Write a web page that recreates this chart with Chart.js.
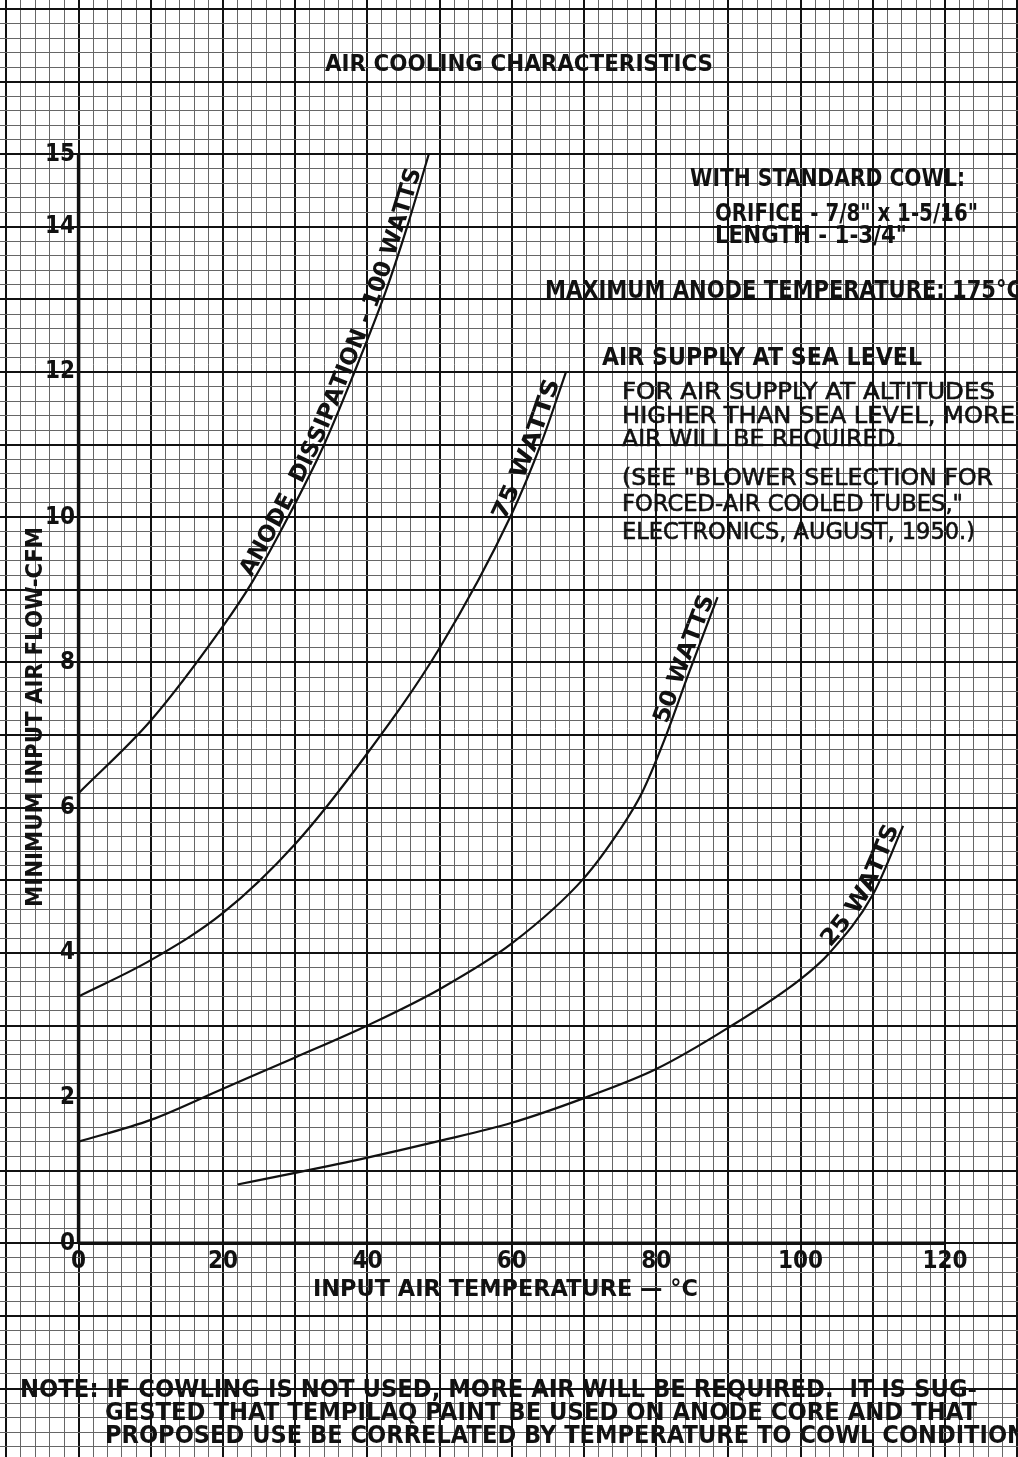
<!DOCTYPE html>
<html>
<head>
<meta charset="utf-8">
<script src="https://cdn.jsdelivr.net/npm/chart.js@4.4.1/dist/chart.umd.min.js"></script>
<style>
  html, body { margin: 0; padding: 0; background: #fff; }
  #wrap { position: relative; width: 1018px; height: 1457px; }
</style>
</head>
<body>
<div id="wrap"><canvas id="c"></canvas></div>
<script>
// Tick labels printed on the axes
const X_TICK_LABELS = [0, 20, 40, 60, 80, 100, 120];
const Y_TICK_LABELS = [0, 2, 4, 6, 8, 10, 12, 14, 15];

// Input air temperature (°C) vs. minimum input air flow (CFM), one pair per anode dissipation
const temp100 = [0, 10, 20, 24, 29, 34, 38, 42.5, 45.5, 48.5];
const flow100 = [6.2, 7.2, 8.5, 9.1, 10.0, 11.0, 11.95, 13.1, 14.0, 15.0];
const temp75 = [0, 10, 20, 30, 40, 50, 60, 64, 67.5];
const flow75 = [3.4, 3.9, 4.55, 5.5, 6.75, 8.2, 10.05, 11.0, 12.0];
const temp50 = [0, 10, 20, 30, 40, 50, 60, 70, 75, 78, 81, 84.5, 88.5];
const flow50 = [1.4, 1.7, 2.13, 2.56, 3.0, 3.5, 4.13, 5.03, 5.7, 6.2, 6.9, 7.85, 8.9];
const temp25 = [22, 30, 40, 50, 60, 70, 80, 90, 100, 104, 110, 114.2];
const flow25 = [0.81, 0.97, 1.18, 1.41, 1.66, 2.0, 2.4, 2.97, 3.64, 4.0, 4.8, 5.75];

const curveLabels = ['ANODE  DISSIPATION - 100 WATTS', '75 WATTS', '50 WATTS', '25 WATTS'];

// Extent of the axis lines drawn over the ruled sheet
const X_AXIS_END = 120;
const Y_AXIS_END = 15;

// ---- layout -------------------------------------------------------------
// The ruled sheet fills the canvas; these limits place the origin where the axes cross.
const X_MIN = -10.886, X_MAX = 130.11;
const Y_MIN = -2.9435, Y_MAX = 17.1253;
const INK = '#111';
const FONT = "'DejaVu Sans', 'Liberation Sans', sans-serif";
const TICK_FONT = "'DejaVu Sans Condensed', 'DejaVu Sans', sans-serif";

// temperature span along each curve that its caption occupies
const LABEL_SPANS = [[24.3, 47.8], [59.4, 67.0], [81.9, 88.4], [104.4, 114.0]];

const near = (a, b) => Math.abs(a - b) < 1e-6;
const majorX = v => near(v / 10, Math.round(v / 10));
const majorY = v => near(v, Math.round(v));
const pts = (xs, ys) => xs.map((x, i) => ({ x, y: ys[i] }));
const noPad = s => { s.paddingLeft = s.paddingRight = s.paddingTop = s.paddingBottom = 0; };

// draws one line of lettering squeezed or stretched to run from x0 to x1
function fitText(ctx, text, x0, x1, yMid, size, weight) {
  ctx.save();
  ctx.font = `${weight} ${size}px ${FONT}`;
  ctx.textAlign = 'left';
  ctx.textBaseline = 'alphabetic';
  const w = ctx.measureText(text).width;
  ctx.translate(x0, yMid + size * 0.365);
  ctx.scale((x1 - x0) / w, 1);
  ctx.fillText(text, 0, 0);
  if (weight === 'normal') {
    ctx.strokeStyle = INK;
    ctx.lineWidth = 0.6;
    ctx.strokeText(text, 0, 0);
  }
  ctx.restore();
}

// polyline through the spline that Chart.js drew for a dataset, with arc lengths
function samplePath(elems) {
  const out = [];
  for (let i = 0; i < elems.length - 1; i++) {
    const a = elems[i], b = elems[i + 1];
    const c1x = a.cp2x ?? a.x, c1y = a.cp2y ?? a.y;
    const c2x = b.cp1x ?? b.x, c2y = b.cp1y ?? b.y;
    for (let k = 0; k < 40; k++) {
      const t = k / 40, u = 1 - t;
      out.push({
        x: u * u * u * a.x + 3 * u * u * t * c1x + 3 * u * t * t * c2x + t * t * t * b.x,
        y: u * u * u * a.y + 3 * u * u * t * c1y + 3 * u * t * t * c2y + t * t * t * b.y
      });
    }
  }
  const last = elems[elems.length - 1];
  out.push({ x: last.x, y: last.y });
  let s = 0;
  out.forEach((p, i) => {
    if (i) s += Math.hypot(p.x - out[i - 1].x, p.y - out[i - 1].y);
    p.s = s;
  });
  return out;
}

function arcAtX(path, px) {
  for (let i = 0; i < path.length - 1; i++) {
    const a = path[i], b = path[i + 1];
    if (px >= a.x && px <= b.x) {
      const t = b.x === a.x ? 0 : (px - a.x) / (b.x - a.x);
      return a.s + t * (b.s - a.s);
    }
  }
  return px < path[0].x ? 0 : path[path.length - 1].s;
}

function pointAt(path, s) {
  let i = 0;
  while (i < path.length - 2 && path[i + 1].s < s) i++;
  const a = path[i], b = path[i + 1];
  const t = b.s === a.s ? 0 : (s - a.s) / (b.s - a.s);
  return { x: a.x + t * (b.x - a.x), y: a.y + t * (b.y - a.y), ang: Math.atan2(b.y - a.y, b.x - a.x) };
}

// letters a caption one character at a time along the upper side of its curve
function labelAlongCurve(chart, dsIndex, text, span, size, off) {
  const ctx = chart.ctx;
  const path = samplePath(chart.getDatasetMeta(dsIndex).data);
  const xs = chart.scales.x;
  const s0 = arcAtX(path, xs.getPixelForValue(span[0]));
  const s1 = arcAtX(path, xs.getPixelForValue(span[1]));
  ctx.save();
  ctx.font = `bold ${size}px ${FONT}`;
  ctx.textAlign = 'center';
  ctx.textBaseline = 'alphabetic';
  const chars = [...text];
  const widths = chars.map(ch => ctx.measureText(ch).width);
  const total = widths.reduce((a, b) => a + b, 0);
  const k = (s1 - s0) / total;
  let acc = 0;
  chars.forEach((ch, i) => {
    const p = pointAt(path, s0 + (acc + widths[i] / 2) * k);
    ctx.save();
    ctx.translate(p.x, p.y);
    ctx.rotate(p.ang);
    ctx.translate(0, -off);
    ctx.scale(k, 1);
    ctx.fillText(ch, 0, 0);
    ctx.restore();
    acc += widths[i];
  });
  ctx.restore();
}

const paperText = {
  id: 'paperText',
  afterDraw(chart) {
    const ctx = chart.ctx;
    ctx.save();
    ctx.fillStyle = INK;

    fitText(ctx, 'AIR COOLING CHARACTERISTICS', 325, 713, 63, 23, 'bold');

    fitText(ctx, 'WITH STANDARD COWL:', 690, 965, 177, 24, 'bold');
    fitText(ctx, 'ORIFICE - 7/8" x 1-5/16"', 715, 978, 212, 24, 'bold');
    fitText(ctx, 'LENGTH - 1-3/4"', 715, 907, 234, 24, 'bold');
    fitText(ctx, 'MAXIMUM ANODE TEMPERATURE: 175°C', 545, 1022, 289, 24, 'bold');
    fitText(ctx, 'AIR SUPPLY AT SEA LEVEL', 602, 922, 356, 24, 'bold');
    fitText(ctx, 'FOR AIR SUPPLY AT ALTITUDES', 622, 995, 391, 23, 'normal');
    fitText(ctx, 'HIGHER THAN SEA LEVEL, MORE', 622, 1015, 415, 23, 'normal');
    fitText(ctx, 'AIR WILL BE REQUIRED.', 622, 903, 438, 23, 'normal');
    fitText(ctx, '(SEE "BLOWER SELECTION FOR', 622, 993, 477, 23, 'normal');
    fitText(ctx, 'FORCED-AIR COOLED TUBES,"', 622, 963, 503, 23, 'normal');
    fitText(ctx, 'ELECTRONICS, AUGUST, 1950.)', 622, 975, 531, 23, 'normal');

    fitText(ctx, 'INPUT AIR TEMPERATURE — °C', 313, 698, 1288, 23, 'bold');
    ctx.save();
    ctx.translate(34, 907);
    ctx.rotate(-Math.PI / 2);
    fitText(ctx, 'MINIMUM INPUT AIR FLOW-CFM', 0, 380, 0, 23, 'bold');
    ctx.restore();

    fitText(ctx, 'NOTE: IF COWLING IS NOT USED, MORE AIR WILL BE REQUIRED.  IT IS SUG-', 20, 977, 1388, 24, 'bold');
    fitText(ctx, 'GESTED THAT TEMPILAQ PAINT BE USED ON ANODE CORE AND THAT', 105, 977, 1411, 24, 'bold');
    fitText(ctx, 'PROPOSED USE BE CORRELATED BY TEMPERATURE TO COWL CONDITION', 105, 1026, 1434, 24, 'bold');

    LABEL_SPANS.forEach((span, i) => labelAlongCurve(chart, i, curveLabels[i], span, 23, 3));
    ctx.restore();
  }
};

const curveStyle = {
  showLine: true, borderColor: INK, backgroundColor: INK, borderWidth: 2.2,
  pointRadius: 0, fill: false, cubicInterpolationMode: 'monotone'
};
const axisStyle = {
  showLine: true, borderColor: INK, borderWidth: 3.5, pointRadius: 0, fill: false, tension: 0
};

new Chart(document.getElementById('c'), {
  type: 'line',
  data: {
    datasets: [
      { label: '100 W', data: pts(temp100, flow100), ...curveStyle },
      { label: '75 W', data: pts(temp75, flow75), ...curveStyle },
      { label: '50 W', data: pts(temp50, flow50), ...curveStyle },
      { label: '25 W', data: pts(temp25, flow25), ...curveStyle },
      { label: 'x axis', data: pts([0, X_AXIS_END], [0, 0]), ...axisStyle },
      { label: 'y axis', data: pts([0, 0], [0, Y_AXIS_END]), ...axisStyle }
    ]
  },
  options: {
    responsive: true,
    maintainAspectRatio: false,
    animation: false,
    layout: { padding: 0, autoPadding: false },
    plugins: { legend: { display: false }, tooltip: { enabled: false }, title: { display: false } },
    scales: {
      x: {
        type: 'linear', min: X_MIN, max: X_MAX, bounds: 'data', position: { y: 0 },
        afterBuildTicks: s => { const t = []; for (let v = -10; v <= 130; v += 2) t.push({ value: v }); s.ticks = t; },
        afterFit: noPad,
        grid: {
          color: c => (c.tick && majorX(c.tick.value)) ? '#111' : '#666',
          lineWidth: c => (c.tick && majorX(c.tick.value)) ? 2 : 1,
          drawTicks: false
        },
        border: { display: false },
        ticks: {
          autoSkip: false, maxRotation: 0, minRotation: 0, padding: 4, color: INK,
          font: { family: TICK_FONT, size: 24, weight: 'bold' },
          callback: v => X_TICK_LABELS.some(t => near(t, v)) ? String(Math.round(v)) : ''
        }
      },
      y: {
        type: 'linear', min: Y_MIN, max: Y_MAX, bounds: 'data', position: { x: -0.5 },
        afterBuildTicks: s => { const t = []; for (let i = -14; i <= 85; i++) t.push({ value: i / 5 }); s.ticks = t; },
        afterFit: noPad,
        grid: {
          color: c => (c.tick && majorY(c.tick.value)) ? '#111' : '#666',
          lineWidth: c => (c.tick && majorY(c.tick.value)) ? 2 : 1,
          drawTicks: false
        },
        border: { display: false },
        ticks: {
          autoSkip: false, padding: 4, color: INK,
          font: { family: TICK_FONT, size: 24, weight: 'bold' },
          callback: v => Y_TICK_LABELS.some(t => near(t, v)) ? String(Math.round(v)) : ''
        }
      }
    }
  },
  plugins: [paperText]
});
</script>
</body>
</html>
